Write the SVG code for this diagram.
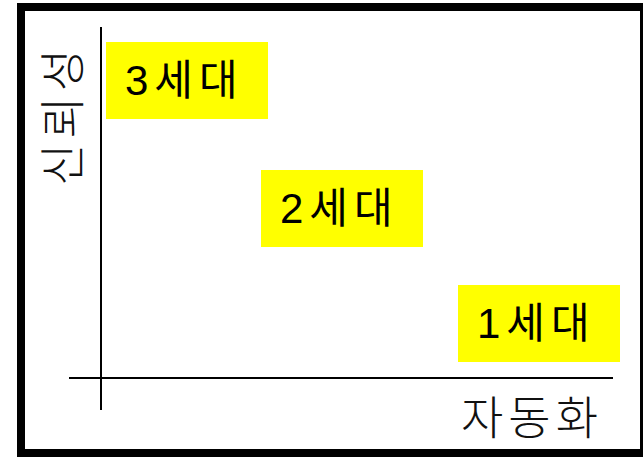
<svg xmlns="http://www.w3.org/2000/svg" width="643" height="457" viewBox="0 0 643 457">
<style>
.box{fill:#ffff00;}
.lbl{font-family:"Liberation Sans","Noto Sans CJK KR",sans-serif;font-size:42px;fill:#000;letter-spacing:6px;}
.ax{font-family:"Noto Sans CJK KR","Noto Sans",sans-serif;font-size:46px;fill:#111;text-anchor:middle;font-weight:300;letter-spacing:5px;}
.axis{stroke:#000;stroke-width:2;fill:none;}
</style>
<rect x="0" y="0" width="643" height="457" fill="#fff"/>
<rect x="21" y="7" width="623" height="446" fill="none" stroke="#000" stroke-width="8"/>
<g id="connectors">
<line class="axis" x1="101" y1="27" x2="101" y2="410"/>
<line class="axis" x1="69" y1="378" x2="613" y2="378" stroke="#333"/>
</g>
<g id="gen3">
<rect class="box" x="106" y="42" width="162" height="77"/>
<text class="lbl" x="125" y="95">3세대</text>
</g>
<g id="gen2">
<rect class="box" x="261" y="170" width="162" height="77"/>
<text class="lbl" x="280" y="223">2세대</text>
</g>
<g id="gen1">
<rect class="box" x="458" y="285" width="162" height="77"/>
<text class="lbl" x="477" y="338">1세대</text>
</g>
<g id="ylabel">
<text class="ax" transform="translate(79,115) rotate(-90)" x="0" y="0">신뢰성</text>
</g>
<g id="xlabel">
<text class="ax" x="532" y="434">자동화</text>
</g>
</svg>
